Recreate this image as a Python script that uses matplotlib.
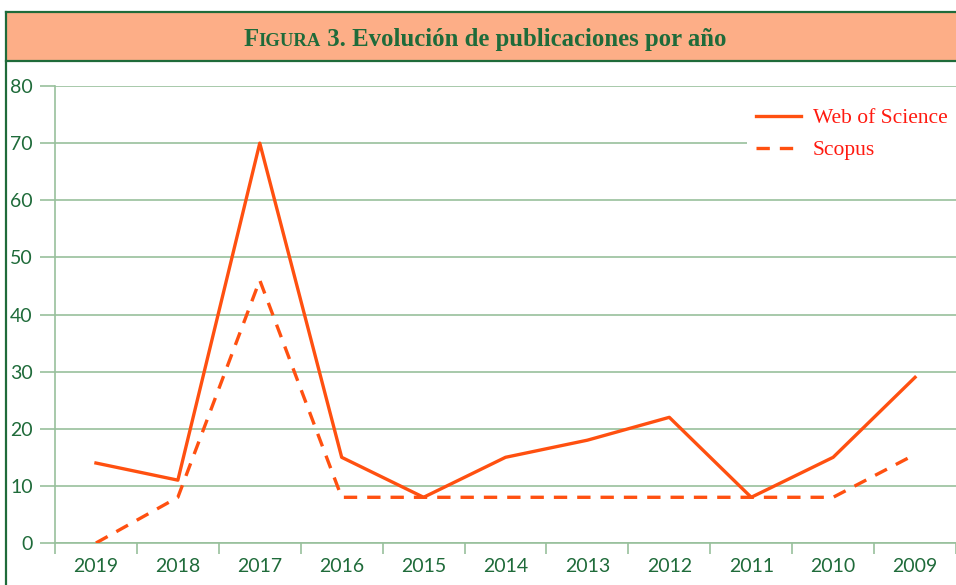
import matplotlib
matplotlib.use("Agg")
import matplotlib.pyplot as plt
from matplotlib.lines import Line2D
from matplotlib.patches import Rectangle

# data
years = ["2019", "2018", "2017", "2016", "2015", "2014", "2013", "2012", "2011", "2010", "2009"]
wos = [14, 11, 70, 15, 8, 15, 18, 22, 8, 15, 29]
scopus = [0, 8, 46, 8, 8, 8, 8, 8, 8, 8, 15.5]
yticks = [0, 10, 20, 30, 40, 50, 60, 70, 80]

green = "#1f6b3a"
grid_green = "#98c09c"
orange = "#ff5010"
salmon = "#fdae87"

W, H = 956, 585
fig = plt.figure(figsize=(W / 100, H / 100), dpi=100)

# title band and frame
fig.patches.append(Rectangle((6 / W, 1 - 61 / H), 1, 49 / H, transform=fig.transFigure,
                             facecolor=salmon, edgecolor="none", zorder=0))
for yy in (12, 61):
    fig.add_artist(Line2D([6 / W, 1], [1 - yy / H] * 2, transform=fig.transFigure,
                          color=green, lw=1.6))
fig.add_artist(Line2D([6 / W, 6 / W], [0, 1 - 12 / H], transform=fig.transFigure,
                      color=green, lw=1.6))

# title with small caps for "Figura"
serif = ["Liberation Serif", "DejaVu Serif"]
parts = [("F", 17.8), ("IGURA", 13.4), (" 3. Evolución de publicaciones por año", 17.8)]
fig.canvas.draw()
r = fig.canvas.get_renderer()
texts = []
for s, fs in parts:
    t = fig.text(0, 1 - 46 / H, s, fontsize=fs, fontweight="bold", color=green,
                 family=serif, va="baseline", ha="left")
    texts.append(t)
widths = [t.get_window_extent(r).width for t in texts]
x = (485 - sum(widths) / 2) / W
for t, w in zip(texts, widths):
    t.set_x(x)
    x += w / W

ax = fig.add_axes([55 / W, 1 - 543 / H, 1 - 55 / W, (543 - 86) / H])
xs = range(len(years))
ax.plot(xs, wos, color=orange, lw=2.4, label="Web of Science", zorder=3)
ax.plot(xs, scopus, color=orange, lw=2.4, dashes=(4, 3), label="Scopus", zorder=3)

ax.set_xlim(-0.5, len(years) - 0.5)
ax.set_ylim(0, 80)
ax.set_yticks(yticks)
ax.yaxis.grid(True, color=grid_green, lw=1.2)
ax.set_axisbelow(True)
ax.set_xticks(list(xs))
ax.set_xticklabels(years)
ax.set_xticks([i - 0.5 for i in range(len(years) + 1)], minor=True)
ax.tick_params(axis="x", which="major", length=0, pad=11, labelsize=14, labelcolor=green)
ax.tick_params(axis="x", which="minor", length=8, width=1.2, color=grid_green)
ax.tick_params(axis="y", length=11, width=1.2, color=grid_green, pad=5,
               labelsize=14, labelcolor=green)
for s in ("top", "right"):
    ax.spines[s].set_visible(False)
ax.spines["left"].set_color(grid_green)
ax.spines["left"].set_linewidth(1.2)
ax.spines["bottom"].set_color(grid_green)
ax.spines["bottom"].set_linewidth(1.2)
for lab in ax.get_xticklabels() + ax.get_yticklabels():
    lab.set_family(["Lato", "DejaVu Sans"])

leg = ax.legend(loc="upper right", bbox_to_anchor=(1.0, 0.97), borderaxespad=0,
                frameon=True, fancybox=False, edgecolor="none", facecolor="white",
                framealpha=1, prop={"family": serif, "size": 15.5}, handlelength=2.1,
                handletextpad=0.55, labelspacing=0.55, borderpad=0.4)
for t in leg.get_texts():
    t.set_color("#ff1a10")

fig.savefig("out.png", dpi=100)
